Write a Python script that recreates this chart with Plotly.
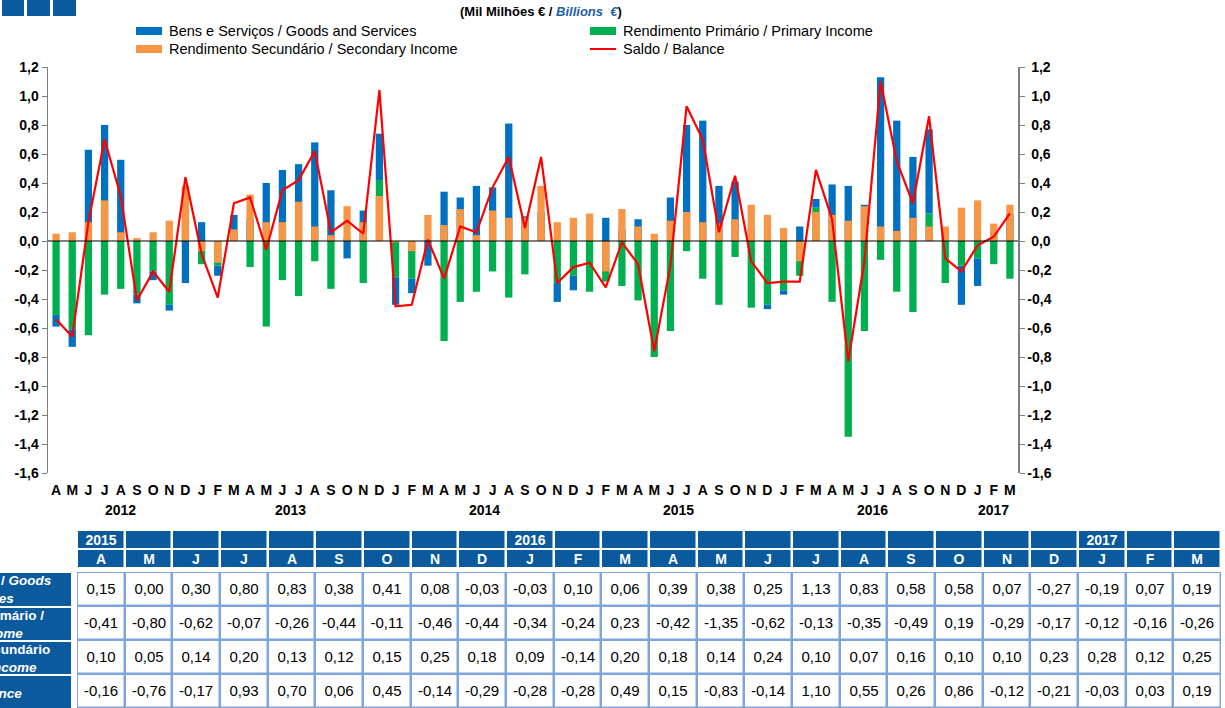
import plotly.graph_objects as go

W, H = 1225, 708

# ---------------- data ----------------
month_letters = ["A", "M", "J", "J", "A", "S", "O", "N", "D",
                 "J", "F", "M", "A", "M", "J", "J", "A", "S", "O", "N", "D",
                 "J", "F", "M", "A", "M", "J", "J", "A", "S", "O", "N", "D",
                 "J", "F", "M", "A", "M", "J", "J", "A", "S", "O", "N", "D",
                 "J", "F", "M", "A", "M", "J", "J", "A", "S", "O", "N", "D",
                 "J", "F", "M"]
year_labels = ["2012", "2013", "2014", "2015", "2016", "2017"]
year_first_index = [0, 9, 21, 33, 45, 57]

goods = [-0.08, -0.12, 0.63, 0.80, 0.56, -0.06, -0.06, -0.04, -0.29,
         0.13, -0.07, 0.14, 0.15, 0.40, 0.49, 0.53, 0.68, 0.35, -0.12, 0.21, 0.32,
         -0.19, -0.10, -0.17, 0.34, 0.30, 0.38, 0.37, 0.81, 0.17, 0.15, -0.13, -0.10,
         0.01, 0.16, 0.08, 0.15, 0.00, 0.30, 0.80, 0.83, 0.38, 0.41, 0.08, -0.03,
         -0.03, 0.10, 0.06, 0.39, 0.38, 0.25, 1.13, 0.83, 0.58, 0.58, 0.07, -0.27,
         -0.19, 0.07, 0.19]
primary = [-0.51, -0.61, -0.65, -0.37, -0.33, -0.37, -0.21, -0.44, 0.36,
           -0.16, -0.17, 0.04, -0.18, -0.59, -0.27, -0.38, -0.14, -0.33, 0.02, -0.29, 0.42,
           -0.25, -0.26, 0.00, -0.69, -0.42, -0.35, -0.21, -0.39, -0.23, 0.05, -0.29, -0.24,
           -0.35, -0.28, -0.31, -0.41, -0.80, -0.62, -0.07, -0.26, -0.44, -0.11, -0.46, -0.44,
           -0.34, -0.24, 0.23, -0.42, -1.35, -0.62, -0.13, -0.35, -0.49, 0.19, -0.29, -0.17,
           -0.12, -0.16, -0.26]
secondary = [0.05, 0.06, 0.13, 0.28, 0.06, 0.02, 0.06, 0.14, 0.38,
             -0.07, -0.15, 0.08, 0.32, 0.13, 0.13, 0.27, 0.10, 0.04, 0.24, 0.13, 0.31,
             -0.01, -0.07, 0.18, 0.11, 0.22, 0.04, 0.21, 0.16, 0.16, 0.38, 0.13, 0.16,
             0.19, -0.21, 0.22, 0.10, 0.05, 0.14, 0.20, 0.13, 0.12, 0.15, 0.25, 0.18,
             0.09, -0.14, 0.20, 0.18, 0.14, 0.24, 0.10, 0.07, 0.16, 0.10, 0.10, 0.23,
             0.28, 0.12, 0.25]
balance = [-0.54, -0.66, 0.13, 0.70, 0.31, -0.41, -0.21, -0.35, 0.44,
           -0.09, -0.39, 0.26, 0.30, -0.06, 0.35, 0.42, 0.62, 0.06, 0.14, 0.05, 1.04,
           -0.45, -0.44, 0.01, -0.26, 0.10, 0.06, 0.37, 0.58, 0.09, 0.58, -0.29, -0.18,
           -0.15, -0.32, -0.01, -0.16, -0.76, -0.17, 0.93, 0.70, 0.06, 0.45, -0.14, -0.29,
           -0.28, -0.28, 0.49, 0.15, -0.83, -0.14, 1.10, 0.55, 0.26, 0.86, -0.12, -0.21,
           -0.03, 0.03, 0.19]

series_names = ["Bens e Serviços / Goods and Services",
                "Rendimento Primário / Primary Income",
                "Rendimento Secundário / Secondary Income",
                "Saldo / Balance"]
row_labels = ["Bens e Serviços / <i>Goods</i><br><i>and Services</i>",
              "Rendimento Primário /<br><i>Primary Income</i>",
              "Rendimento Secundário<br>/ <i>Secondary Income</i>",
              "Saldo / <i>Balance</i>"]
y_ticks = [-1.6, -1.4, -1.2, -1.0, -0.8, -0.6, -0.4, -0.2, 0.0, 0.2, 0.4, 0.6, 0.8, 1.0, 1.2]
table_months = 24

# ---------------- styles ----------------
BLUE = "#0070C0"
GREEN = "#00B050"
ORANGE = "#F79646"
RED = "#FF0000"
DARK = "#0B5A9E"
GRID = "#7EA6DC"
AXIS = "#7F7F7F"
FONT = "Liberation Sans, Arial, sans-serif"

n = len(month_letters)
idx = list(range(n))


def px(x):
    return x / W


def py(y):
    return 1 - y / H


def fmt(v, d):
    return f"{v:.{d}f}".replace(".", ",")


tick_text_left = [fmt(v, 1) for v in y_ticks]
tick_text_right = [("\u00a0" if v >= 0 else "") + fmt(v, 1) for v in y_ticks]

fig = go.Figure()
fig.add_trace(go.Bar(x=idx, y=primary, name=series_names[1], marker=dict(color=GREEN, line=dict(width=0)),
                     xaxis="x", yaxis="y"))
fig.add_trace(go.Bar(x=idx, y=goods, name=series_names[0], marker=dict(color=BLUE, line=dict(width=0)),
                     xaxis="x", yaxis="y"))
fig.add_trace(go.Bar(x=idx, y=secondary, name=series_names[2], marker=dict(color=ORANGE, line=dict(width=0)),
                     xaxis="x", yaxis="y2"))
fig.add_trace(go.Scatter(x=idx, y=balance, name=series_names[3], mode="lines",
                         line=dict(color=RED, width=2.2), xaxis="x", yaxis="y2"))

# ---------------- table (heatmap grids) ----------------
t0 = n - table_months
tm = month_letters[t0:]
years_for_cols = []
for j in range(table_months):
    i = t0 + j
    yr = ""
    for k, fi in enumerate(year_first_index):
        last = k == len(year_first_index) - 1
        if i == fi or (j == 0 and i >= fi and (last or i < year_first_index[k + 1])):
            yr = year_labels[k]
    years_for_cols.append(yr)

cols = list(range(table_months))
header_text = [["<b>" + y + "</b>" if y else "" for y in years_for_cols], ["<b>" + m + "</b>" for m in tm]]
fig.add_trace(go.Heatmap(
    x=cols, y=[0, 1], z=[[0] * table_months, [0] * table_months],
    colorscale=[[0, DARK], [1, DARK]], showscale=False, xgap=2.5, ygap=2,
    text=header_text, texttemplate="%{text}", hoverinfo="skip",
    textfont=dict(color="white", size=14, family=FONT), xaxis="x5", yaxis="y3"))

rows = [goods, primary, secondary, balance]
data_text = [[fmt(r[t0 + j], 2) for j in range(table_months)] for r in rows]
fig.add_trace(go.Heatmap(
    x=cols, y=[0, 1, 2, 3], z=[[0] * table_months for _ in rows],
    colorscale=[[0, "white"], [1, "white"]], showscale=False, xgap=2.5, ygap=2.5,
    text=data_text, texttemplate="%{text}", hoverinfo="skip",
    textfont=dict(color="black", size=15, family=FONT), xaxis="x5", yaxis="y4"))

shapes = []
annotations = []
# light-blue grid background behind the data cells
shapes.append(dict(type="rect", xref="x5", yref="y4", x0=-0.5, x1=table_months - 0.5, y0=-0.5, y1=3.5,
                   fillcolor=GRID, line=dict(width=0), layer="below"))

# row label cells
row_bounds = [(573, 606), (608, 640), (642, 674), (676, 710)]
for (a, b), lab in zip(row_bounds, row_labels):
    shapes.append(dict(type="rect", xref="paper", yref="paper", x0=-0.2, x1=px(71), y0=py(b), y1=py(a),
                       fillcolor=DARK, line=dict(width=0), layer="above"))
    annotations.append(dict(text="<b>" + lab + "</b>", xref="paper", yref="paper", x=px(-28), y=py((a + b) / 2),
                            xanchor="center", yanchor="middle", showarrow=False, align="center",
                            font=dict(color="white", size=13.5, family=FONT)))

# top-left squares
for x0, x1 in [(2, 24), (27, 50), (53, 76)]:
    shapes.append(dict(type="rect", xref="paper", yref="paper", x0=px(x0), x1=px(x1), y0=py(16), y1=py(0),
                       fillcolor=DARK, line=dict(width=0)))

# zero line
shapes.append(dict(type="line", xref="x", yref="y", x0=-0.5, x1=n - 0.5, y0=0, y1=0,
                   line=dict(color="black", width=1.2), layer="above"))

# legend (manual)
leg = [(136, 31, BLUE, series_names[0], "rect"), (590, 31, GREEN, series_names[1], "rect"),
       (136, 49, ORANGE, series_names[2], "rect"), (590, 49, RED, series_names[3], "line")]
for x, y, c, name, kind in leg:
    if kind == "rect":
        shapes.append(dict(type="rect", xref="paper", yref="paper", x0=px(x), x1=px(x + 26),
                           y0=py(y + 4), y1=py(y - 4), fillcolor=c, line=dict(width=0)))
    else:
        shapes.append(dict(type="line", xref="paper", yref="paper", x0=px(x), x1=px(x + 26),
                           y0=py(y), y1=py(y), line=dict(color=c, width=2)))
    annotations.append(dict(text=name, xref="paper", yref="paper", x=px(x + 31), y=py(y),
                            xanchor="left", yanchor="middle", showarrow=False,
                            font=dict(color="black", size=14.5, family=FONT)))

# title
annotations.append(dict(text="<b>(Mil Milhões € / <i><span style='color:#1F5FA8'>Billions  €</span></i>)</b>",
                        xref="paper", yref="paper", x=px(541), y=py(12), xanchor="center", yanchor="middle",
                        showarrow=False, font=dict(color="black", size=13, family=FONT)))

# year labels
year_end = year_first_index[1:] + [n]
for lab, a, b in zip(year_labels, year_first_index, year_end):
    annotations.append(dict(text="<b>" + lab + "</b>", xref="x", yref="paper", x=(a + b - 1) / 2, y=py(510),
                            xanchor="center", yanchor="middle", showarrow=False,
                            font=dict(color="black", size=14, family=FONT)))

year_bounds = [a - 0.5 for a in year_first_index] + [n - 0.5]
month_bounds = [i + 0.5 for i in range(n - 1) if (i + 0.5) not in year_bounds]
all_bounds = [i + 0.5 for i in range(n - 1)]

xdom = [px(48), px(1018)]
ydom = [py(473), py(67)]
common_x = dict(domain=xdom, range=[-0.5, n - 0.5], showgrid=False, zeroline=False, automargin=False)
ycommon = dict(range=[-1.6, 1.2], tickvals=y_ticks, ticks="outside", ticklen=5,
               tickcolor=AXIS, showline=True, linecolor=AXIS, linewidth=1.5, showgrid=False, zeroline=False,
               automargin=False,
               tickfont=dict(color="black", size=14, family=FONT, weight="bold"), domain=ydom)
hidden = dict(visible=False, showgrid=False, zeroline=False, automargin=False, fixedrange=True)
tdom_x = [px(77), px(1221)]

fig.update_layout(
    template="none",
    width=W, height=H, autosize=False,
    margin=dict(l=0, r=0, t=0, b=0, pad=0),
    font=dict(family=FONT, color="black"),
    paper_bgcolor="white", plot_bgcolor="white",
    barmode="relative", bargap=0.55,
    showlegend=False,
    xaxis=dict(**common_x, anchor="y", tickvals=idx, ticktext=month_letters, ticks="", showline=False,
               tickfont=dict(color="black", size=14, family=FONT, weight="bold"), ticklabelstandoff=7),
    xaxis2=dict(**common_x, overlaying="x", anchor="y", tickvals=month_bounds, ticks="outside", ticklen=24,
                tickwidth=1, tickcolor=AXIS, showticklabels=False, showline=False),
    xaxis3=dict(**common_x, overlaying="x", anchor="y", tickvals=year_bounds, ticks="outside", ticklen=47,
                tickwidth=1.5, tickcolor=AXIS, showticklabels=False, showline=False),
    xaxis4=dict(**common_x, overlaying="x", anchor="free", position=py(241), tickvals=all_bounds,
                ticks="outside", ticklen=4, tickwidth=1, tickcolor="#595959", showticklabels=False,
                showline=False),
    yaxis=dict(**ycommon, ticktext=tick_text_left, anchor="x", side="left"),
    yaxis2=dict(**ycommon, ticktext=tick_text_right, anchor="x", side="right", overlaying="y"),
    xaxis5=dict(**hidden, domain=tdom_x, range=[-0.5, table_months - 0.5], anchor="y3"),
    yaxis3=dict(**hidden, domain=[py(568), py(530)], range=[1.5, -0.5], anchor="x5"),
    yaxis4=dict(**hidden, domain=[0, py(572)], range=[3.5, -0.5], anchor="x5"),
    shapes=shapes,
    annotations=annotations,
)

fig.write_html("out.html", config={"displayModeBar": False, "staticPlot": True},
               post_script="document.body.style.margin='0';document.body.style.overflow='hidden';")
